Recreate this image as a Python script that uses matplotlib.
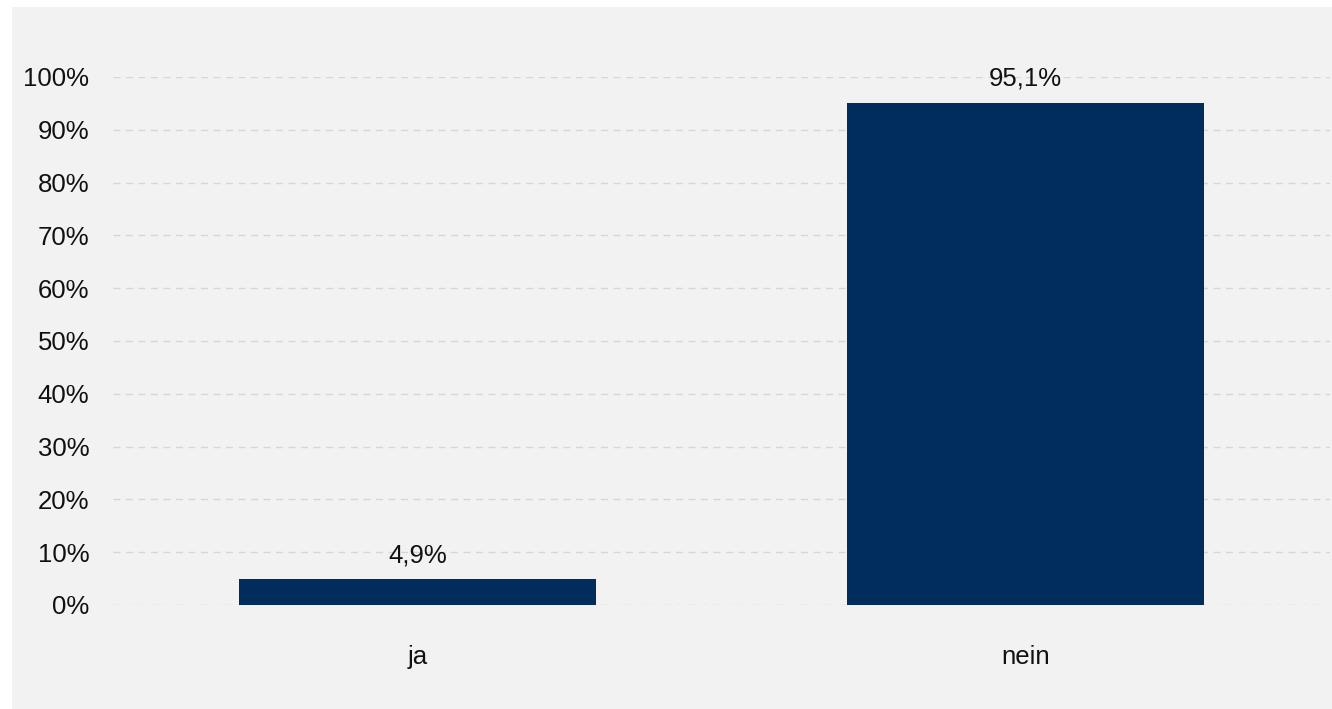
import matplotlib
matplotlib.use("Agg")
import matplotlib.pyplot as plt
from matplotlib.ticker import FuncFormatter

categories = ["ja", "nein"]
values = [4.9, 95.1]
yticks = [0, 10, 20, 30, 40, 50, 60, 70, 80, 90, 100]

plt.rcParams["font.family"] = ["Liberation Sans", "DejaVu Sans"]

W, H = 1332, 709
fig = plt.figure(figsize=(W / 100, H / 100), dpi=100)
fig.patch.set_facecolor("white")

# gray panel behind the chart
panel = plt.Rectangle((12 / W, 0), 1 - 12 / W, 1 - 7 / H, transform=fig.transFigure,
                      facecolor="#f2f2f2", edgecolor="none", zorder=-10)
fig.patches.append(panel)

ax = fig.add_axes([113 / W, 1 - 605 / H, (1330 - 113) / W, (605 - 77) / H])
ax.set_facecolor("none")
ax.set_zorder(5)

x = range(len(categories))
bars = ax.bar(x, values, width=0.587, color="#002d5b", zorder=3)

for xi, v in zip(x, values):
    ax.annotate(f"{v:.1f}%".replace(".", ","), (xi, v), xytext=(0, 12),
                textcoords="offset pixels", ha="center", va="bottom",
                fontsize=18.5, color="#111111", clip_on=False)

ax.set_xlim(-0.5, 1.5)
ax.set_ylim(0, 100)
ax.set_yticks(yticks)
ax.yaxis.set_major_formatter(FuncFormatter(lambda v, p: f"{v:.0f}%"))
ax.set_xticks(list(x))
ax.set_xticklabels(categories)

ax.grid(axis="y", color="#d6d6d6", linestyle=(0, (5, 4)), linewidth=1.0, zorder=0)
ax.tick_params(axis="y", length=0, pad=17, labelsize=18.5, labelcolor="#111111")
ax.tick_params(axis="x", length=0, pad=29, labelsize=18.5, labelcolor="#111111")
for s in ax.spines.values():
    s.set_visible(False)

fig.savefig("out.png", dpi=100, facecolor=fig.get_facecolor())
